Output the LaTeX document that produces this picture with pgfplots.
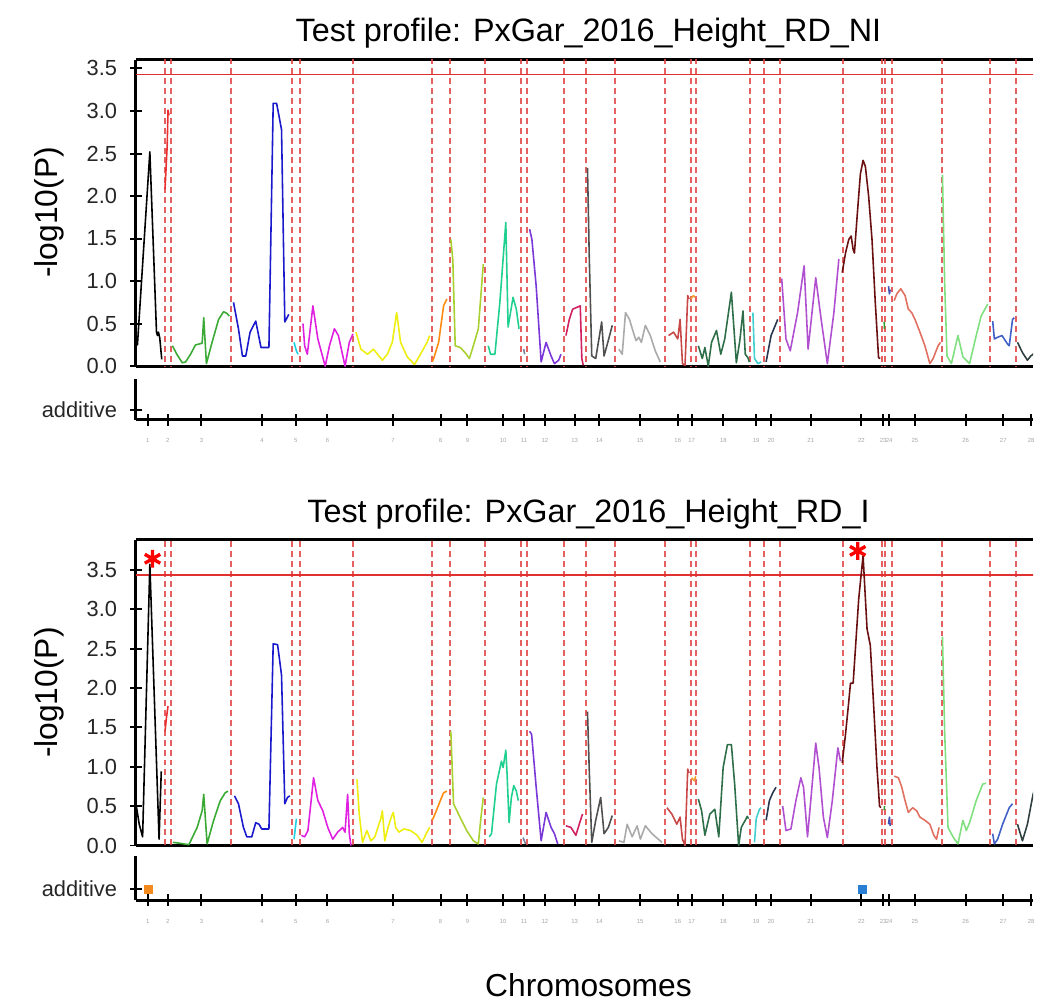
\documentclass[border=0pt]{standalone}
\usepackage{pgfplots}
\pgfplotsset{compat=1.18}
\usepackage{fontspec}
\setmainfont{Liberation Sans}
\setsansfont{Liberation Sans}

\definecolor{c1}{HTML}{000000}
\definecolor{c2}{HTML}{E83030}
\definecolor{c3}{HTML}{3AAA35}
\definecolor{c4}{HTML}{1A1ACC}
\definecolor{c5}{HTML}{20D0E0}
\definecolor{c6}{HTML}{E020E0}
\definecolor{c7}{HTML}{EEEE10}
\definecolor{c8}{HTML}{FF8C10}
\definecolor{c9}{HTML}{A8D030}
\definecolor{c10}{HTML}{20D090}
\definecolor{c11}{HTML}{7080A0}
\definecolor{c12}{HTML}{7A38D8}
\definecolor{c13}{HTML}{D02060}
\definecolor{c14}{HTML}{505050}
\definecolor{c15}{HTML}{AAAAAA}
\definecolor{c16}{HTML}{C84848}
\definecolor{c17}{HTML}{F0A030}
\definecolor{c18}{HTML}{2E6E48}
\definecolor{c19}{HTML}{40D0D0}
\definecolor{c20}{HTML}{283850}
\definecolor{c21}{HTML}{B050D0}
\definecolor{c22}{HTML}{6A1010}
\definecolor{c23}{HTML}{30A030}
\definecolor{c24}{HTML}{4050B0}
\definecolor{c25}{HTML}{E07060}
\definecolor{c26}{HTML}{80E080}
\definecolor{c27}{HTML}{4060C8}
\definecolor{c28}{HTML}{304040}
\definecolor{vline}{HTML}{E04545}
\definecolor{thr}{HTML}{E03030}
\definecolor{addor}{HTML}{F28A1E}
\definecolor{addbl}{HTML}{2A7FD4}

\pgfplotsset{
  every axis/.append style={
    scale only axis, width=452pt, xmin=137, xmax=1041,
    /pgf/number format/assume math mode=true,
    tick align=outside, major tick length=6pt,
    every tick/.style={black, line width=1pt},
    tick label style={font=\fontsize{11}{13}\selectfont, text=black!85},
    y tick label style={xshift=-3pt},
  },
  mainax/.style={
    ymin=0, axis x line=box, axis y line=left,
    axis line style={-, line width=1.5pt},
    xtick=\empty, ytick={0,0.5,...,3.5},
    y tick label style={/pgf/number format/fixed, /pgf/number format/fixed zerofill, /pgf/number format/precision=1},
  },
  addax/.style={
    ymin=0, ymax=1, axis x line=bottom, axis y line=left,
    axis line style={-, line width=1.5pt},
    ytick={0.25}, yticklabels={additive},
    xtick={149,169,203,264,298,330,396,444,471,507,528,549,579,604,645,683,697,729,762,777,817,868,890,896,922,973,1011,1039},
    xticklabels={1,2,3,4,5,6,7,8,9,10,11,12,13,14,15,16,17,18,19,20,21,22,23,24,25,26,27,28},
    x tick label style={font=\fontsize{3}{3}\selectfont, text=gray!70, yshift=-3pt},
  },
  dl/.style={line width=0.8pt, line join=round, mark=none},
  vl/.style={vline, opacity=0.85, line width=1pt, dash pattern=on 3pt off 2pt},
}

\begin{document}
\begin{tikzpicture}
\path (0,0) rectangle (520.5pt,504pt);

% ---------------- TOP PANEL ----------------
\begin{axis}[mainax, at={(68.5pt,319.5pt)}, anchor=south west, height=154.5pt, ymax=3.605]
\pgfplotsinvokeforeach{166,172,233,294,302,356,435,453.5,489,525,531,568,590.5,620,670,696,701,756,770,786,849.5,889,892,899,949,998,1024}{\addplot[vl] coordinates {(#1,-1) (#1,5)};}
\addplot[thr, line width=0.9pt] coordinates {(137,3.43) (1060,3.43)};
\addplot[dl,c1] coordinates {(137,0.30)(138.5,0.25)(151,2.52)(157.7,0.40)(158.7,0.36)(159.7,0.40)(161,0.33)(163,0.08)};
\addplot[dl,c2] coordinates {(166.3,2.08)(168.5,2.6)(169.3,3.01)(170.3,2.95)};
\addplot[dl,c3] coordinates {(173.7,0.24)(178.7,0.13)(183.7,0.04)(187,0.05)(192,0.14)(197,0.25)(203.7,0.27)(205.3,0.57)(208,0.03)(213.7,0.28)(220.3,0.55)(225.3,0.64)(228.7,0.62)(231,0.59)};
\addplot[dl,c4] coordinates {(235.3,0.75)(240.3,0.44)(244.3,0.12)(247.7,0.12)(252,0.40)(257.7,0.53)(263,0.22)(271,0.22)(275.3,3.09)(278.7,3.09)(281,2.95)(283.7,2.78)(287,0.52)(289.3,0.57)(291,0.61)};
\addplot[dl,c5] coordinates {(296.3,0.28)(298.7,0.18)(300.3,0.14)};
\addplot[dl,c6] coordinates {(305.3,0.50)(307,0.24)(309.7,0.14)(315.3,0.71)(320.3,0.32)(327.7,0.0)(332,0.24)(337,0.44)(341,0.36)(347.7,0.0)(352,0.28)(355.7,0.38)};
\addplot[dl,c7] coordinates {(358.7,0.40)(363.7,0.20)(370.3,0.14)(376.3,0.20)(385.3,0.07)(390.3,0.14)(395.3,0.28)(399.7,0.63)(403.7,0.28)(410.3,0.11)(417.7,0.02)(423.7,0.14)(430.3,0.28)(433,0.36)};
\addplot[dl,c8] coordinates {(435.5,0.05)(437,0.09)(442,0.28)(447,0.71)(450.3,0.79)};
\addplot[dl,c9] coordinates {(454.3,1.49)(456.3,1.25)(458.7,0.24)(463.7,0.22)(468.7,0.16)(473,0.09)(477,0.24)(482,0.44)(487,1.20)};
\addplot[dl,c10] coordinates {(492,0.24)(494.3,0.14)(498.7,0.14)(503.7,0.75)(509.7,1.69)(512,0.46)(517,0.81)(520.3,0.67)(523,0.44)};
\addplot[dl,c11] coordinates {(527.7,0.20)(528.7,0.14)};
\addplot[dl,c12] coordinates {(533.7,1.61)(536,1.49)(540.3,0.94)(545.3,0.05)(550.3,0.28)(555.3,0.12)(558.7,0.03)(563,0.07)(565.3,0.14)};
\addplot[dl,c13] coordinates {(570.3,0.36)(573.7,0.55)(577,0.67)(583,0.70)(584.7,0.71)(586.3,0.09)(587.7,0.01)};
\addplot[dl,c14] coordinates {(592,2.33)(593.7,1.33)(596.3,0.12)(600.3,0.09)(606.3,0.52)(608.7,0.12)(612,0.26)(617,0.48)};
\addplot[dl,c15] coordinates {(623.7,0.20)(627,0.14)(630.3,0.63)(634.3,0.55)(638.7,0.38)(641,0.30)(643.7,0.34)(646.3,0.28)(650.3,0.48)(655.3,0.36)(660.3,0.18)(665.3,0.05)};
\addplot[dl,c16] coordinates {(673.7,0.36)(678.7,0.40)(683,0.32)(685.3,0.55)(687.7,0.03)(690.3,0.01)(693,0.83)(694.3,0.79)};
\addplot[dl,c17] coordinates {(696.3,0.79)(698.7,0.83)(700.3,0.81)};
\addplot[dl,c18] coordinates {(703.7,0.24)(707.7,0.09)(710.3,0.22)(713.7,0.0)(717,0.28)(722,0.42)(726.3,0.14)(730.3,0.32)(737,0.87)(742,0.04)(745.5,0.30)(748.7,0.65)(751,0.14)(753.7,0.10)(755,0.05)};
\addplot[dl,c19] coordinates {(758.7,0.63)(760.3,0.09)(763.7,0.03)(767,0.05)};
\addplot[dl,c20] coordinates {(772,0.05)(777,0.36)(783.7,0.55)};
\addplot[dl,c21] coordinates {(787.7,1.03)(792,0.32)(796.3,0.18)(803.7,0.63)(810.3,1.18)(814.3,0.20)(822,1.04)(827,0.59)(833.7,0.03)(840.3,0.63)(845.3,1.26)};
\addplot[dl,c22] coordinates {(848.7,1.10)(852,1.33)(855.3,1.49)(857.7,1.53)(859.7,1.37)(861,1.33)(863.7,1.76)(867,2.26)(869.7,2.42)(872,2.35)(875.3,2.00)(878.7,1.49)(882,0.75)(885.3,0.10)(887,0.09)};
\addplot[dl,c23] coordinates {(891,0.52)(891.3,0.44)};
\addplot[dl,c24] coordinates {(895.3,0.94)(896.3,0.85)(897,0.90)};
\addplot[dl,c25] coordinates {(901,0.77)(903.7,0.85)(907.7,0.91)(912,0.83)(915.3,0.67)(918.7,0.63)(922,0.55)(927,0.40)(932,0.24)(937,0.03)(940.3,0.09)(945.3,0.24)(947.7,0.28)};
\addplot[dl,c26] coordinates {(949.7,2.25)(952,0.94)(954.3,0.12)(958.7,0.03)(965.3,0.36)(970.3,0.11)(977,0.03)(983.7,0.36)(988.7,0.59)(995.3,0.73)};
\addplot[dl,c27] coordinates {(1000.3,0.53)(1002,0.32)(1005.3,0.34)(1009.7,0.36)(1015.3,0.26)(1017,0.24)(1020.3,0.55)(1022,0.57)};
\addplot[dl,c28] coordinates {(1025.3,0.28)(1030.3,0.16)(1035.3,0.07)(1038.7,0.12)(1041,0.14)(1045,0.2)};
\end{axis}

\begin{axis}[addax, at={(68.5pt,292.5pt)}, anchor=south west, height=20.5pt]
\end{axis}

% ---------------- BOTTOM PANEL ----------------
\begin{axis}[mainax, at={(68.5pt,78pt)}, anchor=south west, height=154pt, ymax=3.88]
\pgfplotsinvokeforeach{166,172,233,294,302,356,435,453.5,489,525,531,568,590.5,620,670,696,701,756,770,786,849.5,889,892,899,949,998,1024}{\addplot[vl] coordinates {(#1,-1) (#1,5)};}
\addplot[thr, line width=0.9pt] coordinates {(137,3.43) (1060,3.43)};
\addplot[dl,c1] coordinates {(137,0.53)(140.3,0.27)(143.7,0.11)(151,3.57)(160.3,0.08)(162.5,0.94)};
\addplot[dl,c2] coordinates {(166.3,1.45)(167.7,1.62)(169.3,1.77)};
\addplot[dl,c3] coordinates {(174.3,0.04)(180.3,0.03)(190.3,0.01)(198.7,0.23)(203.7,0.44)(205.3,0.65)(208.7,0.02)(215.3,0.32)(222,0.57)(227,0.67)(229.7,0.69)};
\addplot[dl,c4] coordinates {(236.3,0.63)(240.3,0.53)(245.3,0.23)(248.7,0.11)(253.7,0.11)(257.7,0.29)(261,0.27)(263.7,0.21)(271,0.21)(275.3,2.56)(279.7,2.55)(282,2.33)(283.7,2.16)(287,0.53)(289.7,0.61)(292,0.63)};
\addplot[dl,c5] coordinates {(296.3,0.08)(298.7,0.34)};
\addplot[dl,c6] coordinates {(303.7,0.13)(307,0.11)(310.3,0.19)(316,0.86)(320.3,0.57)(325.3,0.44)(330.3,0.23)(335.3,0.08)(340.3,0.17)(345.3,0.23)(347.7,0.17)(350.3,0.65)(352,0.15)(353.7,0.0)};
\addplot[dl,c7] coordinates {(359.7,0.84)(362,0.40)(365.3,0.04)(369.7,0.19)(373.7,0.06)(377.7,0.11)(383.7,0.34)(385.3,0.44)(387.7,0.06)(391,0.23)(394.3,0.36)(396.3,0.42)(398.7,0.23)(402,0.17)(407,0.21)(413.7,0.19)(420.3,0.13)(425.3,0.04)(430.3,0.17)(433,0.23)};
\addplot[dl,c8] coordinates {(435.5,0.32)(437,0.36)(440.3,0.46)(443.7,0.57)(447,0.67)(450.3,0.69)};
\addplot[dl,c9] coordinates {(454.3,1.45)(457,0.53)(462,0.40)(470.3,0.19)(477,0.06)(482,0.02)(484.7,0.36)(487,0.61)};
\addplot[dl,c10] coordinates {(493,0.11)(495.3,0.15)(500.3,0.78)(505.3,1.07)(507,0.99)(509.7,1.21)(511,0.90)(513,0.29)(515.3,0.61)(517.7,0.76)(520.3,0.69)(522.3,0.57)};
\addplot[dl,c11] coordinates {(527,0.10)(529.7,0.02)};
\addplot[dl,c12] coordinates {(533.7,1.45)(535.7,1.41)(540.3,0.74)(545.3,0.06)(550.3,0.42)(555.3,0.23)(558.7,0.15)(562,0.02)};
\addplot[dl,c13] coordinates {(570.3,0.25)(575.3,0.23)(580.3,0.13)(583.7,0.27)(587,0.40)};
\addplot[dl,c14] coordinates {(592,1.70)(593.7,0.99)(596.3,0.04)(600.3,0.32)(605.3,0.61)(608.7,0.15)(613,0.23)(617,0.38)};
\addplot[dl,c15] coordinates {(623.7,0.06)(628.7,0.04)(632,0.27)(637,0.11)(642,0.25)(645.3,0.08)(650.3,0.25)(657,0.15)(667,0.04)};
\addplot[dl,c16] coordinates {(672,0.48)(677,0.40)(682,0.27)(685.3,0.36)(687.7,0.08)(690.3,0.0)(693,0.97)(694.3,0.92)};
\addplot[dl,c17] coordinates {(697,0.86)(699.7,0.82)(701,0.88)};
\addplot[dl,c18] coordinates {(703.7,0.59)(707,0.44)(710.3,0.13)(715.3,0.40)(720.3,0.46)(724.3,0.11)(728.7,0.99)(733,1.28)(737,1.28)(740.3,0.78)(744.3,0.0)(747,0.23)(748.7,0.27)(751,0.32)(753,0.37)(754.3,0.34)};
\addplot[dl,c19] coordinates {(760.3,0.04)(762,0.34)(765.3,0.46)(767,0.48)};
\addplot[dl,c20] coordinates {(772,0.32)(775.3,0.57)(778.7,0.67)(782,0.74)};
\addplot[dl,c21] coordinates {(788.7,0.50)(792,0.19)(797,0.21)(802,0.57)(807,0.86)(809.7,0.74)(813.7,0.11)(817,0.57)(822,1.30)(825.3,0.99)(829.7,0.36)(833.7,0.10)(838.7,0.57)(844.3,1.24)(847,1.07)};
\addplot[dl,c22] coordinates {(848.7,1.05)(852,1.41)(855.3,1.83)(857,2.06)(859.7,2.06)(862,2.50)(865.3,3.13)(869.7,3.68)(873.7,2.75)(877,2.54)(880.3,1.79)(883.7,0.99)(886.3,0.50)(887.7,0.48)};
\addplot[dl,c23] coordinates {(891,0.45)(891.3,0.50)};
\addplot[dl,c24] coordinates {(895.3,0.27)(896.3,0.36)(897,0.25)};
\addplot[dl,c25] coordinates {(901,0.88)(905.3,0.86)(908.7,0.74)(912,0.57)(915.3,0.42)(919.7,0.48)(923.7,0.44)(927,0.36)(932,0.32)(937,0.27)(941,0.13)(943.7,0.08)(946.3,0.23)};
\addplot[dl,c26] coordinates {(949.7,2.65)(952,1.41)(955.3,0.23)(960.3,0.11)(965.3,0.02)(970.3,0.32)(973.7,0.19)(977,0.29)(983.7,0.57)(990.3,0.78)(993.7,0.79)};
\addplot[dl,c27] coordinates {(1000.3,0.15)(1002,0.02)(1005.3,0.08)(1010.3,0.27)(1017,0.48)(1020.3,0.53)};
\addplot[dl,c28] coordinates {(1025.3,0.27)(1030.3,0.06)(1035.3,0.27)(1041,0.65)(1045,0.80)};
\addplot[only marks, mark=asterisk, mark size=4.5pt, red, mark options={line width=1.7pt}] coordinates {(153.7,3.64) (864.3,3.74)};
\end{axis}

\begin{axis}[addax, at={(68.5pt,50.5pt)}, anchor=south west, height=22pt]
\addplot[only marks, mark=square*, mark size=2pt, addor] coordinates {(150,0.25)};
\addplot[only marks, mark=square*, mark size=2pt, addbl] coordinates {(869,0.25)};
\end{axis}

% ---------------- TEXT ----------------
\node[font=\fontsize{16.3}{19}\selectfont] at (296.5pt,487.5pt) {Test profile: PxGar\_2016\_Height\_RD\_NI};
\node[font=\fontsize{16.3}{19}\selectfont] at (296.5pt,245pt) {Test profile: PxGar\_2016\_Height\_RD\_I};
\node[font=\fontsize{16}{19}\selectfont, rotate=90] at (25pt,397pt) {-log10(P)};
\node[font=\fontsize{16}{19}\selectfont, rotate=90] at (25pt,155pt) {-log10(P)};
\node[font=\fontsize{16}{19}\selectfont] at (296.5pt,7.5pt) {Chromosomes};
\end{tikzpicture}
\end{document}
